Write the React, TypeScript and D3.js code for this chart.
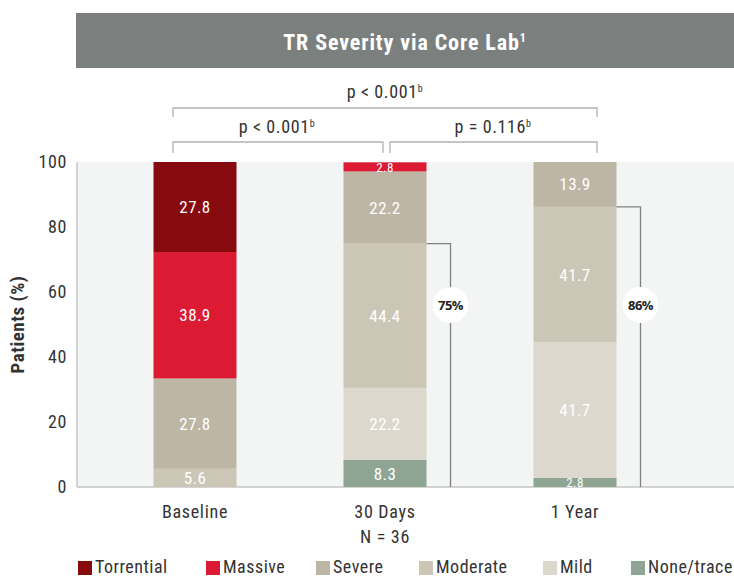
import React from 'react';
import * as d3 from 'd3';

// categories and series values (percent of patients), bottom to top
const categories = ['Baseline', '30 Days', '1 Year'];
const severityKeys = ['None/trace', 'Mild', 'Moderate', 'Severe', 'Massive', 'Torrential'];
const noneTrace = [0, 8.3, 2.8];
const mild = [0, 22.2, 41.7];
const moderate = [5.6, 44.4, 41.7];
const severe = [27.8, 22.2, 13.9];
const massive = [38.9, 2.8, 0];
const torrential = [27.8, 0, 0];
const yTicks = [0, 20, 40, 60, 80, 100];
// share at moderate or less, shown for follow-up visits
const improvedLabels = ['', '75%', '86%'];
const legendOrder = ['Torrential', 'Massive', 'Severe', 'Moderate', 'Mild', 'None/trace'];

const colors: Record<string, string> = {
  Torrential: '#870a0e',
  Massive: '#dc1a33',
  Severe: '#bdb6a5',
  Moderate: '#ccc6b6',
  Mild: '#dcd8cd',
  'None/trace': '#8ea593',
};

const FONT = "'Liberation Sans Narrow', 'Roboto Condensed', 'Open Sans', sans-serif";

const W = 734;
const H = 577;
const left = 77;
const top = 162;
const bottom = 487;

export default function App() {
  const rows = categories.map((c, i) => ({
    cat: c,
    'None/trace': noneTrace[i],
    Mild: mild[i],
    Moderate: moderate[i],
    Severe: severe[i],
    Massive: massive[i],
    Torrential: torrential[i],
  }));
  const stack = d3.stack<any>().keys(severityKeys)(rows);

  const x = d3.scalePoint().domain(categories).range([195, 575]);
  const y = d3.scaleLinear().domain([0, 100]).range([bottom, top]);
  const barW = 83;

  const modLayer = stack[severityKeys.indexOf('Moderate')];

  const bracket = (x1: number, x2: number, yy: number, drop: number) =>
    `M${x1},${yy + drop}V${yy}H${x2}V${yy + drop}`;

  return (
    <svg width={W} height={H} style={{ position: 'absolute', left: 0, top: 0 }} fontFamily={FONT}>
      {/* title band */}
      <rect x={76} y={13} width={W - 76} height={55} fill="#7b807e" />
      <text x={405} y={50} textAnchor="middle" fill="#fff" fontSize={22} fontWeight="bold" letterSpacing={0.9}>
        TR Severity via Core Lab<tspan fontSize={12} dy={-8}>1</tspan>
      </text>

      {/* p-value brackets */}
      <g stroke="#b3b3b3" strokeWidth={1.3} fill="none">
        <path d={bracket(x('Baseline')! - 22, x('1 Year')! + 22, 108, 9)} />
        <path d={bracket(x('Baseline')! - 22, x('30 Days')! - 2, 142, 11)} />
        <path d={bracket(x('30 Days')! + 5, x('1 Year')! + 22, 142, 11)} />
      </g>
      <g fontSize={18} fill="#333" textAnchor="middle" letterSpacing={0.6}>
        <text x={385} y={98}>p &lt; 0.001<tspan fontSize={10} dy={-6}>b</tspan></text>
        <text x={277} y={133}>p &lt; 0.001<tspan fontSize={10} dy={-6}>b</tspan></text>
        <text x={493} y={133}>p = 0.116<tspan fontSize={10} dy={-6}>b</tspan></text>
      </g>

      {/* plot background and axes */}
      <rect x={left} y={top} width={W - left} height={bottom - top} fill="#f3f5f4" />
      <line x1={left} x2={left} y1={top} y2={bottom} stroke="#c4c6c5" strokeWidth={1.5} />
      <line x1={left} x2={W} y1={bottom} y2={bottom} stroke="#c4c6c5" strokeWidth={1.5} />
      {yTicks.map((t) => (
        <text key={t} x={67} y={y(t) + 6} textAnchor="end" fontSize={18} letterSpacing={0.6} fill="#333">{t}</text>
      ))}
      <text transform={`translate(24,${(top + bottom) / 2}) rotate(-90)`} textAnchor="middle"
        fontSize={19} fontWeight="bold" letterSpacing={0.5} fill="#333">Patients (%)</text>

      {/* stacked bars */}
      {stack.map((layer) => (
        <g key={layer.key} fill={colors[layer.key]}>
          {layer.map((d, i) => {
            const v = d[1] - d[0];
            if (v <= 0) return null;
            const cx = x(categories[i])!;
            const y0 = y(d[0]);
            const y1 = Math.max(y(d[1]), top);
            const small = v < 4;
            return (
              <g key={i}>
                <rect x={cx - barW / 2} y={y1} width={barW} height={y0 - y1} />
                <text x={cx} y={(y0 + y(d[1])) / 2 + (small ? 5 : 6)} textAnchor="middle"
                  fill="#fff" fontSize={small ? 13 : 17} letterSpacing={0.4}>{v.toFixed(1)}</text>
              </g>
            );
          })}
        </g>
      ))}

      {/* improvement connectors */}
      {categories.map((c, i) => {
        if (!improvedLabels[i]) return null;
        const cx = x(c)! + barW / 2 + 24;
        const yTop = y(modLayer[i][1]);
        const cy = y(56);
        return (
          <g key={c}>
            <path d={`M${x(c)! + barW / 2},${yTop}H${cx}V${bottom}`} stroke="#808080" strokeWidth={1.3} fill="none" />
            <circle cx={cx} cy={cy} r={18} fill="#fff" />
            <text x={cx} y={cy + 4.5} textAnchor="middle" fontSize={13} fontWeight="bold" fill="#222"
              fontFamily="'Open Sans', sans-serif" letterSpacing={-0.5}>{improvedLabels[i]}</text>
          </g>
        );
      })}

      {/* x labels */}
      {categories.map((c) => (
        <text key={c} x={x(c)!} y={518} textAnchor="middle" fontSize={18} letterSpacing={0.7} fill="#333">{c}</text>
      ))}
      <text x={x('30 Days')!} y={543} textAnchor="middle" fontSize={18} letterSpacing={0.7} fill="#333">N = 36</text>

      {/* legend */}
      {legendOrder.map((k, i) => {
        const lx = [78, 206, 316, 419, 543, 631][i];
        return (
          <g key={k}>
            <rect x={lx} y={561} width={14} height={14} fill={colors[k]} />
            <text x={lx + 17} y={573} fontSize={18} letterSpacing={0.5} fill="#333">{k}</text>
          </g>
        );
      })}
    </svg>
  );
}
